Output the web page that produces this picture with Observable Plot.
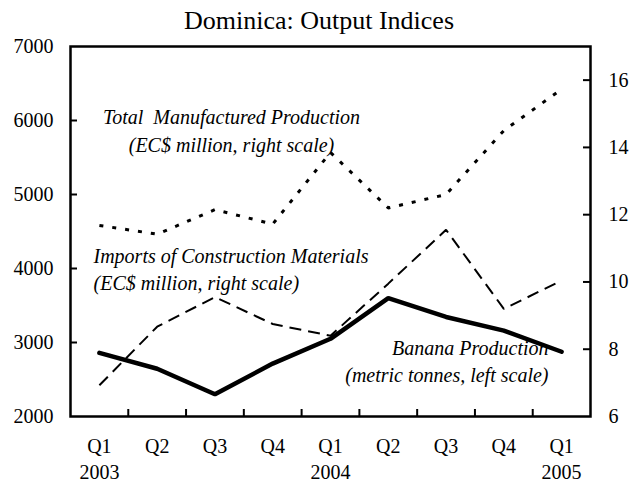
<!DOCTYPE html>
<html><head><meta charset="utf-8">
<script src="https://cdn.jsdelivr.net/npm/d3@7"></script>
<script src="https://cdn.jsdelivr.net/npm/@observablehq/plot@0.6"></script>
<style>
body{margin:0;background:#fff;}
#title{width:638px;height:30px;line-height:30px;position:relative;top:6px;text-align:center;font-family:"Liberation Serif","Times New Roman",serif;font-size:26px;color:#000;}
#chart{position:relative;}
svg text{white-space:pre;}
</style></head><body>
<div id="title">Dominica: Output Indices</div>
<div id="chart"></div>
<script>
const quarters = ["Q1","Q2","Q3","Q4","Q1","Q2","Q3","Q4","Q1"];
const years = ["2003","","","","2004","","","","2005"];
const banana = [2860, 2645, 2300, 2715, 3050, 3600, 3345, 3160, 2875];
const imports = [6.93, 8.67, 9.55, 8.75, 8.4, 9.95, 11.55, 9.2, 10.04];
const manufactured = [11.68, 11.42, 12.15, 11.72, 13.85, 12.2, 12.6, 14.5, 15.73];
const leftTicks = [2000, 3000, 4000, 5000, 6000, 7000];
const rightTicks = [6, 8, 10, 12, 14, 16];
const leftDomain = [2000, 7000];
const rightDomain = [6, 17];

const toLeft = d3.scaleLinear(rightDomain, leftDomain);
const idx = quarters.map((_, i) => i);
const boundaries = idx.slice(1).map(i => i - 0.5);

const W = 638, H = 453, mL = 70, mR = 48, mT = 16, mB = 67;
const fw = W - mL - mR, fh = H - mT - mB;
const serif = "Liberation Serif, Times New Roman, serif";
const note = (t, dx, dy, anchor) => Plot.text([t], {
  frameAnchor: "top-left", dx, dy, textAnchor: anchor, lineAnchor: "middle",
  fontStyle: "italic", fontSize: 20, fill: "#000"
});

const plot = Plot.plot({
  width: W, height: H, marginLeft: mL, marginRight: mR, marginTop: mT, marginBottom: mB,
  style: {fontFamily: serif, fontSize: "20px", color: "#000", background: "none", overflow: "visible"},
  x: {domain: [-0.5, 8.5], axis: null},
  y: {domain: leftDomain, axis: null},
  marks: [
    Plot.axisY(leftTicks, {anchor: "left", tickSize: 0, tickPadding: 17, fontSize: 20,
      tickFormat: d => String(d)}),
    Plot.ruleY(leftTicks.slice(1, -1), {insetRight: fw - 7, strokeWidth: 2, stroke: "#000"}),
    Plot.axisY(rightTicks.map(toLeft), {anchor: "right", tickSize: 0, tickPadding: 18, fontSize: 20,
      tickFormat: d => String(Math.round(toLeft.invert(d)))}),
    Plot.ruleY(rightTicks.slice(1).map(toLeft), {insetLeft: fw - 7, strokeWidth: 2, stroke: "#000"}),
    Plot.ruleX(boundaries, {insetTop: fh - 7, strokeWidth: 2, stroke: "#000"}),
    Plot.axisX(idx, {anchor: "bottom", tickSize: 0, tickPadding: 18, fontSize: 20, lineHeight: 1.3,
      tickFormat: i => years[i] ? quarters[i] + "\n" + years[i] : quarters[i]}),
    note("Total  Manufactured Production", 161, 71, "middle"),
    note("(EC$ million, right scale)", 161, 99, "middle"),
    note("Imports of Construction Materials", 23, 210, "start"),
    note("(EC$ million, right scale)", 23, 237, "start"),
    note("Banana Production", 478, 302, "end"),
    note("(metric tonnes, left scale)", 478, 329, "end"),
    Plot.line(idx, {x: i => i, y: i => toLeft(manufactured[i]), stroke: "#000", strokeWidth: 3,
      strokeDasharray: "4,9", strokeLinecap: "butt", strokeLinejoin: "miter"}),
    Plot.line(idx, {x: i => i, y: i => toLeft(imports[i]), stroke: "#000", strokeWidth: 2,
      strokeDasharray: "12,7", strokeLinecap: "butt", strokeLinejoin: "miter"}),
    Plot.line(idx, {x: i => i, y: i => banana[i], stroke: "#000", strokeWidth: 4.5, strokeLinejoin: "miter"}),
    Plot.frame({stroke: "#000", strokeWidth: 2.5})
  ]
});
document.getElementById("chart").appendChild(plot);
</script>
</body></html>
